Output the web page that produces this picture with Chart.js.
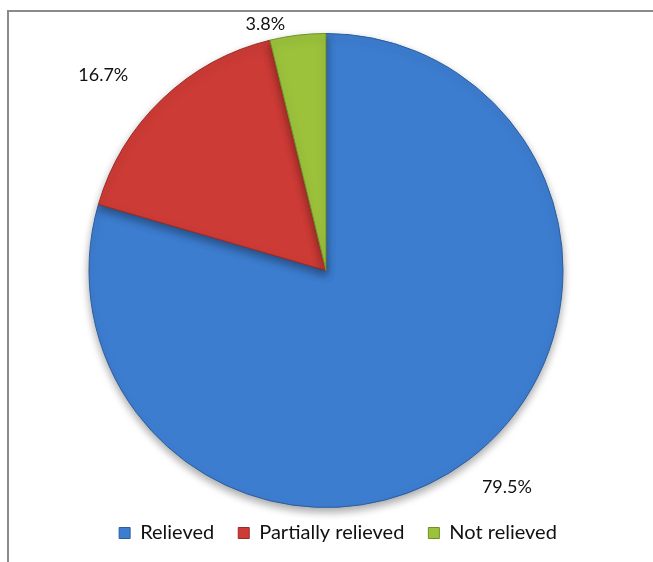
<!DOCTYPE html>
<html>
<head>
<meta charset="utf-8">
<script src="https://cdn.jsdelivr.net/npm/chart.js@4"></script>
<style>
  html, body { margin: 0; padding: 0; background: #fff; }
  #wrap { position: relative; width: 653px; height: 562px; }
  #frame { position: absolute; left: 7px; top: 10px; right: 0; bottom: 0;
           border-top: 2px solid #8a8a8a; border-left: 2px solid #8a8a8a; }
  canvas { position: absolute; left: 0; top: 0; }
</style>
</head>
<body>
<div id="wrap">
  <div id="frame"></div>
  <canvas id="myChart" width="653" height="562"></canvas>
</div>
<script>
// values
var categories = ['Relieved', 'Partially relieved', 'Not relieved'];
var percents = [79.5, 16.7, 3.8];
var labelTexts = ['79.5%', '16.7%', '3.8%'];

var sliceColors = ['#3d7dd0', '#cd3b36', '#9cc23c'];
var edgeColors = ['#2a5d9f', '#9c2a27', '#6f8f25'];

// distance of each label from centre (x outer radius) and small angle nudge (deg)
var labelDist = [1.19, 1.25, 1.07];
var labelNudge = [-3, -5, -7];

// the legend sits a bit right of the pie centre in the original
var legendShift = 12;

var legendShiftPlugin = {
  id: 'legendShift',
  beforeDraw: function(chart) {
    chart.ctx.save();
    chart.ctx.translate(legendShift, 0);
  }
};

var shadowPlugin = {
  id: 'shadow',
  beforeDatasetsDraw: function(chart) {
    var ctx = chart.ctx;
    ctx.restore(); // end of legend shift
    ctx.save();
    ctx.shadowColor = 'rgba(0,0,0,0.35)';
    ctx.shadowBlur = 8;
    ctx.shadowOffsetY = 4;
  },
  afterDatasetsDraw: function(chart) {
    chart.ctx.restore();
  }
};

var labelPlugin = {
  id: 'sliceLabels',
  afterDraw: function(chart) {
    var ctx = chart.ctx;
    var arcs = chart.getDatasetMeta(0).data;
    ctx.save();
    ctx.font = '18px Lato';
    ctx.fillStyle = '#111';
    ctx.textAlign = 'center';
    ctx.textBaseline = 'middle';
    arcs.forEach(function(arc, i) {
      var p = arc.getProps(['x', 'y', 'startAngle', 'endAngle', 'outerRadius'], true);
      var mid = (p.startAngle + p.endAngle) / 2 + labelNudge[i] * Math.PI / 180;
      var r = p.outerRadius * labelDist[i];
      ctx.fillText(labelTexts[i], p.x + Math.cos(mid) * r, p.y + Math.sin(mid) * r);
    });
    ctx.restore();
  }
};

var ctx = document.getElementById('myChart').getContext('2d');
var myChart = new Chart(ctx, {
  type: 'pie',
  data: {
    labels: categories,
    datasets: [{
      data: percents,
      backgroundColor: sliceColors,
      borderColor: edgeColors,
      borderWidth: 1
    }]
  },
  options: {
    responsive: false,
    animation: false,
    radius: 237,
    layout: { padding: { top: 42, left: 0, right: 1, bottom: 9 } },
    plugins: {
      tooltip: { enabled: false },
      legend: {
        position: 'bottom',
        labels: {
          font: { family: 'Lato', size: 20 },
          color: '#111',
          boxWidth: 11,
          boxHeight: 11,
          padding: 24
        }
      }
    }
  },
  plugins: [legendShiftPlugin, shadowPlugin, labelPlugin]
});
</script>
</body>
</html>
